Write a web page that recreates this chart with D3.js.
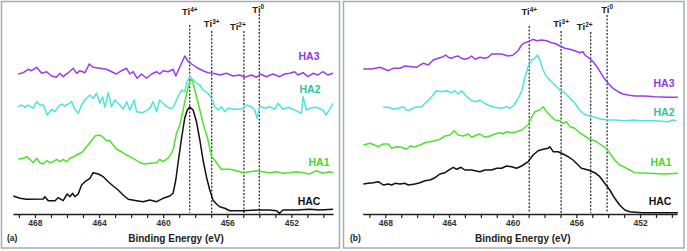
<!DOCTYPE html>
<html><head><meta charset="utf-8">
<script src="https://cdn.jsdelivr.net/npm/d3@7"></script>
<style>
html,body{margin:0;padding:0;background:#fff;}
svg{display:block;font-family:"Liberation Sans",Arial,sans-serif;}
</style></head>
<body><svg id="chart" width="687" height="251"></svg>
<script>
// ---- data: [binding energy (eV), intensity (a.u., offset-stacked)] ----
const energyTickLabels = [468, 464, 460, 456, 452];
const seriesNames = ["HAC", "HA1", "HA2", "HA3"];
const tiLabels = ["4+", "3+", "2+", "0"];
const tiEnergyA = [458.34, 456.97, 454.96, 454.0];
const tiEnergyB = [458.96, 456.96, 455.10, 454.07];

const hacA = [[469.35,18],[468.94,15.7],[468.52,14.7],[467.48,15],[467.38,17.3],[467.17,13.3],[466.75,13.3],[466.55,16.3],[466.24,13.3],[465.99,20],[465.82,17.3],[465.65,20.7],[465.51,17.3],[465.30,20],[465.09,29],[464.88,32.3],[464.57,35.7],[464.37,41.3],[464.05,40],[463.74,37.3],[463.43,32.3],[463.12,28],[462.81,24],[462.50,19],[462.18,14.7],[461.66,13.3],[461.25,12.3],[460.83,14],[460.41,12.3],[460.00,15.7],[459.58,18],[459.38,20.7],[459.21,34],[459.07,51],[458.85,76],[458.65,96],[458.49,104],[458.34,107],[458.13,104],[457.92,92.3],[457.71,74],[457.51,54],[457.30,37.3],[457.09,24],[456.89,14],[456.67,10],[456.47,7.3],[456.16,5.7],[455.84,3.3],[455.01,3.3],[454.18,4],[453.35,4],[452.93,3.3],[452.73,0.7],[452.52,4],[451.69,4],[450.86,4.7],[450.23,4],[449.40,4.7]];
const ha1A = [[469.04,54.7],[468.73,55.7],[468.52,57.3],[468.31,54.7],[468.11,51.3],[467.89,55.7],[467.69,51.3],[467.48,50],[467.27,53.3],[467.06,51.3],[466.86,52.3],[466.65,54.7],[466.44,52.3],[466.24,54.7],[466.02,52.3],[465.82,55.7],[465.51,58],[465.30,60],[465.09,61.3],[464.78,67.3],[464.47,73.3],[464.26,78],[463.95,79],[463.74,76.7],[463.53,73.3],[463.32,73.3],[463.12,69],[462.91,64.7],[462.60,62.3],[462.39,60],[462.08,57.3],[461.77,54.7],[461.45,51.3],[461.14,50],[460.83,50.7],[460.41,51.3],[460.21,54.7],[460.00,52.3],[459.79,54.7],[459.58,58],[459.38,64],[459.17,80.7],[458.96,89],[458.75,104],[458.54,120.7],[458.34,132.3],[458.23,135.7],[458.13,130.7],[457.92,117.3],[457.71,104],[457.51,90.7],[457.20,74],[456.98,57.3],[456.78,54],[456.57,49],[456.36,44.7],[455.84,44.7],[455.43,43.3],[455.01,41.3],[454.60,42.3],[454.18,43.3],[453.77,42.3],[453.35,41.3],[452.93,42.3],[452.52,40.7],[452.10,41.3],[451.69,42.3],[451.27,41.3],[450.86,40],[450.44,43.3],[450.03,40.7],[449.61,42.3],[449.40,41.3]];
const ha2A = [[469.04,107.3],[468.83,109],[468.62,106.7],[468.42,109],[468.11,105.7],[467.89,112.3],[467.69,109],[467.48,109],[467.23,99],[466.96,104.7],[466.75,102.3],[466.55,107.3],[466.34,110],[466.13,108],[465.92,110],[465.71,112.3],[465.51,104.7],[465.30,100.7],[465.09,109],[464.88,114],[464.57,119],[464.37,115.7],[464.15,120.7],[463.95,110.7],[463.78,117.3],[463.64,106.7],[463.43,121.3],[463.22,107.3],[463.01,114],[462.70,109],[462.50,104.7],[462.28,112.3],[462.08,104],[461.81,114],[461.66,102.3],[461.25,101.3],[460.83,105.7],[460.63,112.3],[460.41,102.3],[460.21,114],[459.90,109],[459.58,105.7],[459.38,106],[459.17,114],[458.85,124],[458.65,122.3],[458.54,130.7],[458.34,137.3],[458.13,134],[457.92,130.7],[457.71,129],[457.51,124],[457.20,120.7],[456.98,115.7],[456.78,107.3],[456.57,104],[456.36,107.3],[456.16,102.3],[455.95,105.7],[455.53,104.7],[455.11,104.7],[454.80,109],[454.49,107.3],[454.29,104],[454.14,95.7],[453.97,108],[453.66,105.7],[453.35,107.3],[453.04,104.7],[452.83,110.7],[452.52,104.7],[452.21,106.7],[451.79,104],[451.37,100.7],[451.27,117.3],[451.06,104],[450.86,105.7],[450.44,106.7],[450.03,104],[449.82,99],[449.40,110.7]];
const ha3A = [[469.04,140],[468.73,141.3],[468.42,144.7],[468.21,143.3],[467.89,146.7],[467.58,140.7],[467.27,142.3],[466.96,138],[466.65,136.7],[466.44,140.7],[466.24,137.3],[465.92,141.3],[465.61,145.7],[465.40,140.7],[465.19,143.3],[464.88,141.3],[464.61,150],[464.37,146.7],[463.95,145.7],[463.53,144.7],[463.22,142.3],[462.91,140],[462.60,143.3],[462.28,145.7],[462.08,140],[461.87,142.3],[461.62,135.7],[461.35,140],[461.04,135.7],[460.72,140],[460.41,142.3],[460.21,140],[460.00,143.3],[459.69,142.3],[459.38,144.7],[459.21,138],[458.96,147],[458.65,158],[458.44,152.3],[458.13,149],[457.82,145.7],[457.51,143.3],[457.20,141.3],[456.89,140.7],[456.47,139],[456.05,140.7],[455.64,138],[455.22,139],[454.91,136.7],[454.49,139],[454.18,136.7],[453.93,140],[453.56,137.3],[453.14,140],[452.73,137.3],[452.42,140],[452.10,140.7],[451.79,142.3],[451.59,139],[451.27,141.3],[450.96,137.3],[450.65,140.7],[450.34,139],[450.03,142.3],[449.72,139],[449.40,140.7]];

const hacB = [[469.38,30],[469.07,30.7],[468.75,31.3],[468.44,32.3],[468.13,29],[467.81,30],[467.60,29],[467.39,30.7],[467.08,30],[466.76,30.7],[466.56,29],[466.14,30],[465.82,31.3],[465.51,33.3],[465.20,34],[464.88,36.3],[464.57,40],[464.25,41.3],[463.94,44.7],[463.73,46.7],[463.52,44.7],[463.25,46.7],[463.00,44],[462.58,44],[462.06,42.3],[461.75,44],[461.32,44],[461.01,45.7],[460.70,45.7],[460.38,48],[460.07,47.3],[459.76,45.7],[459.44,48],[459.03,52.3],[458.72,59],[458.40,63.3],[458.09,64.7],[457.77,65.7],[457.67,67.3],[457.46,62.3],[457.15,62.3],[456.83,60],[456.52,57.3],[456.21,54],[455.89,49],[455.68,45.7],[455.26,44],[454.84,41.3],[454.53,37.3],[454.22,30.7],[453.90,24],[453.59,15.7],[453.28,9],[452.96,4],[452.65,2.3],[451.91,1.3],[451.08,1.3],[450.25,1.3],[449.62,1.3]];
const ha1B = [[469.38,69],[468.96,70.7],[468.44,67.3],[468.13,70],[467.81,70],[467.60,65.7],[467.28,67.3],[466.97,66.7],[466.66,64.7],[466.45,68],[466.14,67.3],[465.82,69],[465.51,71.3],[465.20,72.3],[464.88,73.3],[464.57,74.7],[464.25,78],[463.94,79],[463.69,83.3],[463.42,79],[463.11,78],[462.79,80],[462.58,76.7],[462.27,79],[462.06,80],[461.75,76.7],[461.43,78],[461.12,80],[460.80,81.3],[460.60,80],[460.38,82.3],[460.07,81.3],[459.76,82.3],[459.44,84],[459.03,89],[458.82,96.7],[458.61,102.3],[458.29,104],[458.09,107.3],[457.87,102.3],[457.67,99],[457.35,94],[457.04,93.3],[456.83,90.7],[456.62,92.3],[456.41,87.3],[456.10,85.7],[455.79,81.3],[455.47,78],[455.16,74.7],[454.84,73.3],[454.53,70],[454.22,66.7],[453.90,60.7],[453.59,54],[453.28,49],[452.96,46.7],[452.65,44],[452.34,41.3],[451.50,40.7],[450.45,40],[449.62,40.7]];
const ha2B = [[468.13,106.7],[467.81,106.7],[467.50,104.7],[467.18,105.7],[466.87,107.3],[466.66,104],[466.45,104],[466.14,106.7],[465.72,107.3],[465.40,112.3],[465.09,117.3],[464.78,123.3],[464.46,122.3],[464.15,123.3],[463.83,121.3],[463.63,123.3],[463.42,120],[463.21,123.3],[462.89,117.3],[462.58,113.3],[462.27,112.3],[462.06,114],[461.75,110.7],[461.43,108],[461.12,106.7],[460.70,105.7],[460.38,107.3],[460.18,105.7],[459.91,109],[459.66,115.7],[459.44,122.3],[459.24,136],[459.03,147.3],[458.82,154],[458.61,155.7],[458.44,159],[458.29,154],[458.09,144],[457.87,137.3],[457.67,134],[457.35,129],[457.04,124],[456.73,121.3],[456.41,115.7],[456.10,110.7],[455.79,104],[455.58,100.7],[455.37,99],[455.16,98],[454.84,96.7],[454.42,94.7],[454.01,94],[453.59,94],[452.96,93.3],[452.34,94],[452.02,93.3],[451.08,93.3],[450.25,92.3],[449.93,94],[449.72,93.3]];
const ha3B = [[469.38,145],[468.85,145],[468.33,146.7],[468.02,144.7],[467.81,143.3],[467.50,145.7],[467.08,145.7],[466.76,148],[466.34,147.3],[466.03,146.7],[465.82,149],[465.62,150.7],[465.30,149],[464.99,154],[464.68,155.7],[464.36,157.3],[464.21,159],[464.05,156.7],[463.83,155.7],[463.63,157.3],[463.42,158],[463.21,155.7],[463.00,154.7],[462.79,155.7],[462.58,158],[462.37,154.7],[462.06,156.7],[461.75,155.7],[461.54,156.7],[461.32,160],[461.01,160],[460.70,160],[460.28,158],[459.97,159],[459.66,163.3],[459.44,169],[459.24,171.3],[459.03,172.3],[458.72,174.7],[458.50,173.3],[458.19,174],[457.87,173.3],[457.56,171.3],[457.25,170],[457.04,168],[456.73,165.7],[456.41,164.7],[456.10,163.3],[455.79,161.3],[455.58,162.3],[455.47,159],[455.26,156.7],[454.95,152.3],[454.64,145.7],[454.32,137.3],[454.01,130.7],[453.70,125.7],[453.38,122.3],[453.07,120],[452.76,119],[452.34,118],[451.71,118],[451.08,117.3],[450.25,116.7],[449.62,116.7]];

// ---- styles ----
const lineColors = {HAC:"#111111", HA1:"#4fe22c", HA2:"#4fe3df", HA3:"#9b3ee6"};
const labelColors = {HAC:"#111111", HA1:"#45d62a", HA2:"#2ec39c", HA3:"#9237e0"};
const fontFam = '"Liberation Sans", Arial, sans-serif';

const svg = d3.select("#chart");

const y = d3.scaleLinear().domain([0, 200]).range([214, 14]);

const panels = [
  {id:"(a)", frame:[1.5,1.5,338,246.5], xDom:[469.37,449.4], xRng:[13,333],
   series:{HAC:hacA, HA1:ha1A, HA2:ha2A, HA3:ha3A}, ti:tiEnergyA,
   labelPos:{HA3:[309,60],HA2:[310,93],HA1:[319,166],HAC:[309,205]},
   tiTop:[25,31,31,14], tiTextY:[15,27,30,12.5], tiDx:[0,0,-6,-1], idX:7},
  {id:"(b)", frame:[343.5,1.5,340.5,246.5], xDom:[469.42,449.68], xRng:[362.7,677],
   series:{HAC:hacB, HA1:ha1B, HA2:ha2B, HA3:ha3B}, ti:tiEnergyB,
   labelPos:{HA3:[664,87],HA2:[664,116],HA1:[661,166],HAC:[660,205]},
   tiTop:[26,31,32,15], tiTextY:[15,27,30,12.5], tiDx:[0,0,-6,0], idX:350}
];

panels.forEach(p => {
  const g = svg.append("g");
  g.append("rect").attr("x",p.frame[0]).attr("y",p.frame[1])
    .attr("width",p.frame[2]).attr("height",p.frame[3])
    .attr("fill","none").attr("stroke","#a3adb4").attr("stroke-width",1.5);

  const x = d3.scaleLinear().domain(p.xDom).range(p.xRng);

  // axis
  const tickVals = d3.range(450, 470);
  const axis = d3.axisBottom(x).tickValues(tickVals).tickSize(4).tickSizeOuter(0)
    .tickFormat(d => energyTickLabels.includes(d) ? d : "");
  const ax = g.append("g").attr("transform","translate(0,214)").call(axis);
  ax.select(".domain").attr("stroke","#222").attr("stroke-width",1.6);
  ax.selectAll(".tick line").attr("stroke","#222").attr("stroke-width",1.2);
  ax.selectAll(".tick text").attr("fill","#333").attr("font-size",8.5)
    .attr("font-weight","bold").attr("font-family",fontFam).attr("dy","0.95em").attr("y",4);

  g.append("text").attr("x",(p.xRng[0]+p.xRng[1])/2 + 3).attr("y",242)
    .attr("text-anchor","middle").attr("font-size",10).attr("font-weight","bold")
    .attr("fill","#222").attr("font-family",fontFam).text("Binding Energy (eV)");
  g.append("text").attr("x",p.idX).attr("y",241).attr("font-size",8.5)
    .attr("font-weight","bold").attr("fill","#222").attr("font-family",fontFam).text(p.id);

  // Ti reference lines
  p.ti.forEach((e,i) => {
    g.append("line").attr("x1",x(e)).attr("x2",x(e)).attr("y1",p.tiTop[i]).attr("y2",213)
      .attr("stroke","#222").attr("stroke-width",1.2).attr("stroke-dasharray","2,1.6");
    const t = g.append("text").attr("x",x(e)+p.tiDx[i]).attr("y",p.tiTextY[i])
      .attr("text-anchor","middle").attr("font-size",9.5).attr("font-weight","bold")
      .attr("fill","#222").attr("font-family",fontFam);
    t.append("tspan").text("Ti");
    t.append("tspan").attr("font-size",6.5).attr("dy",-3.5).text(tiLabels[i]);
  });

  // series lines
  const line = d3.line().x(d => x(d[0])).y(d => y(d[1]));
  seriesNames.forEach(n => {
    g.append("path").datum(p.series[n]).attr("d",line).attr("fill","none")
      .attr("stroke",lineColors[n]).attr("stroke-width",1.5).attr("stroke-linejoin","round");
    g.append("text").attr("x",p.labelPos[n][0]).attr("y",p.labelPos[n][1])
      .attr("text-anchor","middle").attr("font-size",10.5).attr("font-weight","bold")
      .attr("fill",labelColors[n]).attr("font-family",fontFam).text(n);
  });
});
</script></body></html>
